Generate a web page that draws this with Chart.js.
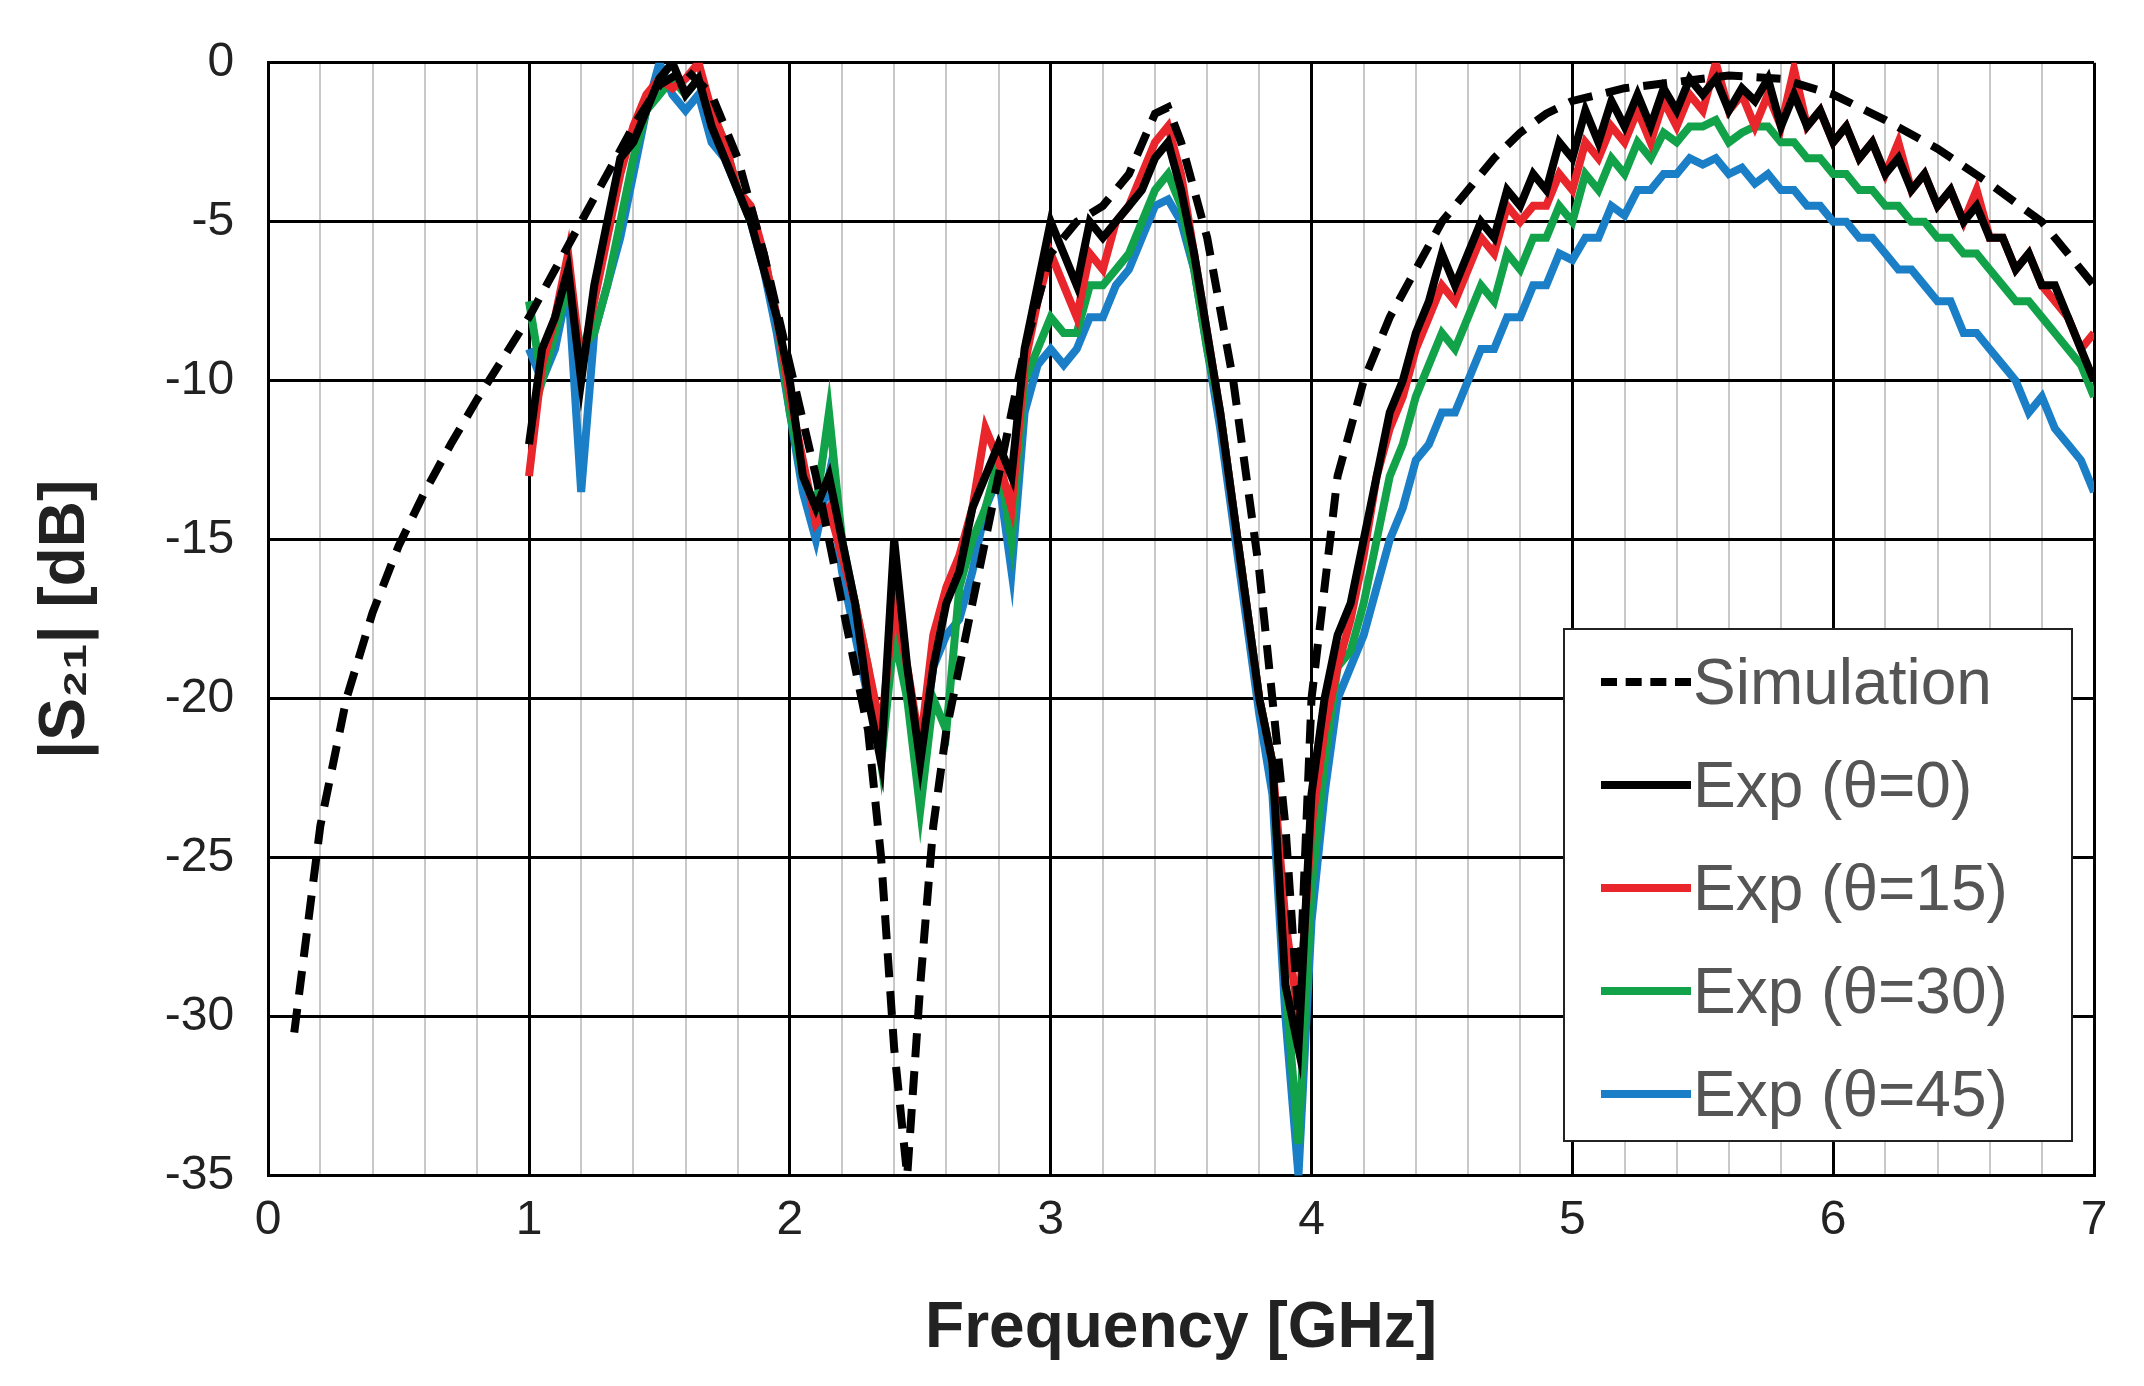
<!DOCTYPE html>
<html><head><meta charset="utf-8">
<script src="https://cdn.jsdelivr.net/npm/chart.js@4.4.0/dist/chart.umd.min.js"></script>
<style>
html,body{margin:0;padding:0;background:#fff;}
#wrap{position:relative;width:2144px;height:1386px;}
#legend{position:absolute;left:1563px;top:628px;width:510px;height:514px;border:2px solid #222;background:#fff;box-sizing:border-box;padding:0 0 0 36px;font-family:"Liberation Sans",Arial,sans-serif;font-size:64px;color:#555;}
.row{display:flex;align-items:center;height:103px;}
.sw{width:90px;height:0;margin-right:2px;}
</style></head><body>
<div id="wrap"><canvas id="c" width="2144" height="1386"></canvas>
<div id="legend">
<div class="row"><div class="sw" style="border-top:8px dashed #000"></div>Simulation</div>
<div class="row"><div class="sw" style="border-top:8px solid #000"></div>Exp (θ=0)</div>
<div class="row"><div class="sw" style="border-top:8px solid #e8262b"></div>Exp (θ=15)</div>
<div class="row"><div class="sw" style="border-top:8px solid #12a34a"></div>Exp (θ=30)</div>
<div class="row"><div class="sw" style="border-top:8px solid #1a7fc6"></div>Exp (θ=45)</div>
</div></div>
<script>
const simX=[0.1,0.2,0.3,0.4,0.5,0.6,0.7,0.8,0.9,1.0,1.1,1.2,1.3,1.4,1.5,1.6,1.7,1.8,1.9,2.0,2.1,2.2,2.3,2.35,2.4,2.45,2.5,2.55,2.6,2.7,2.8,2.9,3.0,3.1,3.2,3.3,3.4,3.45,3.5,3.6,3.7,3.8,3.9,3.95,4.0,4.1,4.2,4.3,4.4,4.5,4.6,4.7,4.8,4.9,5.0,5.2,5.4,5.6,5.8,6.0,6.2,6.4,6.6,6.8,7.0];
const simY=[-30.5,-24,-20,-17.3,-15.2,-13.5,-12,-10.6,-9.3,-8,-6.5,-5,-3.5,-2,-0.7,-0.2,-1,-3,-6,-9.5,-13,-17,-21,-25,-31,-35,-29,-24,-21,-17,-13,-9,-6,-5,-4.5,-3.5,-1.6,-1.4,-2.5,-5.5,-10,-16,-24,-30,-20,-13,-10,-8,-6.5,-5,-4,-3,-2.2,-1.6,-1.2,-0.8,-0.6,-0.4,-0.5,-1,-1.8,-2.7,-3.8,-5,-7];
const expStart=1.0, expStep=0.05;
const exp0=[-12,-9,-8,-6.5,-10,-7,-5,-3,-2.5,-1.5,-0.5,0,-1,-0.5,-2,-3,-4,-5,-6.5,-8,-10,-13,-14,-13,-15,-17,-20,-22,-15,-19,-22,-19,-17,-16,-14,-13,-12,-13,-9,-7,-5,-6,-7,-5,-5.5,-5,-4.5,-4,-3,-2.5,-4,-6,-8.5,-11,-14,-17,-20,-22,-29,-31,-23,-20,-18,-17,-15,-13,-11,-10,-8.5,-7.5,-6,-7,-6,-5,-5.5,-4,-4.5,-3.5,-4,-2.5,-3,-1.5,-2.5,-1.2,-2,-1,-2,-0.8,-1.5,-0.5,-1,-0.5,-1.5,-0.8,-1.2,-0.5,-2,-1,-2,-1.5,-2.5,-2,-3,-2.5,-3.5,-3,-4,-3.5,-4.5,-4,-5,-4.5,-5.5,-5.5,-6.5,-6,-7,-7,-8,-9,-10];
const exp15=[-13,-9.5,-8,-6,-9.5,-7.5,-5.5,-3.5,-2,-1,-0.5,-0.8,-0.5,0,-1.5,-2.5,-4,-4.5,-6,-8,-10.5,-12.5,-14.5,-14,-15.5,-17,-19,-21,-17,-19,-21.5,-18,-16.5,-15.5,-14,-11.5,-12.5,-14,-9.5,-7.5,-6,-7,-8,-6,-6.5,-5,-4.5,-3.5,-2.5,-2,-3.5,-6,-8.5,-11,-14,-17,-20,-22,-27,-30,-24,-21,-19,-17.5,-15.5,-13,-11.5,-10.5,-9,-8,-7,-7.5,-6.5,-5.5,-6,-4.5,-5,-4.5,-4.5,-3.5,-4,-2.5,-3,-2,-2.5,-1.5,-2.5,-1.2,-2,-1,-1.5,0,-1.5,-1,-2,-1,-2,-0.2,-2,-1.5,-2.5,-2,-3,-2.5,-3.5,-2.5,-4,-3.5,-4.5,-4,-5,-4,-5.5,-5.5,-6.5,-6,-7,-7.5,-8,-9,-8.5];
const exp30=[-7.5,-10,-8.5,-7,-9,-8.5,-7,-5,-3,-1.5,-1,-0.5,-1,-0.5,-1.5,-2.5,-4,-5,-6,-8,-11,-13,-14,-11,-15,-17,-19,-22,-18,-20,-23.5,-20,-21,-16.5,-15,-14,-12.5,-15,-10,-9,-8,-8.5,-8.5,-7,-7,-6.5,-6,-5,-4,-3.5,-4.5,-6.5,-9,-11,-14,-17,-20,-22,-29,-34,-26,-22,-19,-18.5,-17,-15,-13,-12,-10.5,-9.5,-8.5,-9,-8,-7,-7.5,-6,-6.5,-5.5,-5.5,-4.5,-5,-3.5,-4,-3,-3.5,-2.5,-3,-2.2,-2.5,-2,-2,-1.8,-2.5,-2.2,-2,-2,-2.5,-2.5,-3,-3,-3.5,-3.5,-4,-4,-4.5,-4.5,-5,-5,-5.5,-5.5,-6,-6,-6.5,-7,-7.5,-7.5,-8,-8.5,-9,-9.5,-10.5];
const exp45=[-9,-10,-9,-7,-13.5,-8.5,-7,-5.5,-3.5,-1.5,0,-1,-1.5,-1,-2.5,-3,-4,-5,-6.5,-8.5,-11,-13.5,-15,-13,-16,-18,-20,-21.5,-17,-20,-22,-19,-18,-17.5,-16,-14,-13,-16,-11,-9.5,-9,-9.5,-9,-8,-8,-7,-6.5,-5.5,-4.5,-4.3,-5,-6.5,-9,-11.5,-14.5,-17.5,-20.5,-23,-30,-35,-27,-23,-20,-19,-18,-16.5,-15,-14,-12.5,-12,-11,-11,-10,-9,-9,-8,-8,-7,-7,-6,-6.2,-5.5,-5.5,-4.5,-4.8,-4,-4,-3.5,-3.5,-3,-3.2,-3,-3.5,-3.3,-3.8,-3.5,-4,-4,-4.5,-4.5,-5,-5,-5.5,-5.5,-6,-6.5,-6.5,-7,-7.5,-7.5,-8.5,-8.5,-9,-9.5,-10,-11,-10.5,-11.5,-12,-12.5,-13.5];
function pts(arr){return arr.map((v,i)=>({x:+(expStart+i*expStep).toFixed(2),y:v}));}
const ds=(label,data,color,dash)=>({label,data,borderColor:color,borderWidth:8,borderDash:dash||[],pointRadius:0,tension:0,fill:false});
new Chart(document.getElementById('c'),{
 type:'line',
 data:{datasets:[
  ds('Simulation',simX.map((x,i)=>({x,y:simY[i]})),'#000',[24,14]),
  ds('Exp (θ=0)',pts(exp0),'#000'),
  ds('Exp (θ=15)',pts(exp15),'#e8262b'),
  ds('Exp (θ=30)',pts(exp30),'#12a34a'),
  ds('Exp (θ=45)',pts(exp45),'#1a7fc6')
 ]},
 options:{responsive:false,animation:false,
  layout:{padding:{top:12,right:50,left:24,bottom:14}},
  plugins:{legend:{display:false},tooltip:{enabled:false}},
  scales:{
   x:{type:'linear',min:0,max:7,
     afterBuildTicks:a=>{const t=[];for(let i=0;i<=35;i++)t.push({value:i*0.2});a.ticks=t;},
     ticks:{autoSkip:false,font:{size:48,family:'Liberation Sans'},color:'#222',padding:16,
       callback:v=>{const r=Math.round(v);return Math.abs(v-r)<1e-6?String(r):'';}},
     grid:{color:c=>{const v=c.tick.value;return Math.abs(v-Math.round(v))<1e-6?'#000':'#c8c8c8';},
       lineWidth:c=>{const v=c.tick.value;return Math.abs(v-Math.round(v))<1e-6?3:2;},drawTicks:false},
     border:{color:'#000',width:3},
     title:{display:true,text:'Frequency [GHz]',font:{size:64,weight:'bold',family:'Liberation Sans'},color:'#222',padding:{top:26}}},
   y:{min:-35,max:0,ticks:{stepSize:5,font:{size:48,family:'Liberation Sans'},color:'#222',padding:34},
     grid:{color:'#000',lineWidth:3,drawTicks:false},border:{color:'#000',width:3},
     title:{display:true,text:'|S₂₁| [dB]',font:{size:64,weight:'bold',family:'Liberation Sans'},color:'#222',padding:{bottom:26}}}
  }}
});
</script></body></html>
